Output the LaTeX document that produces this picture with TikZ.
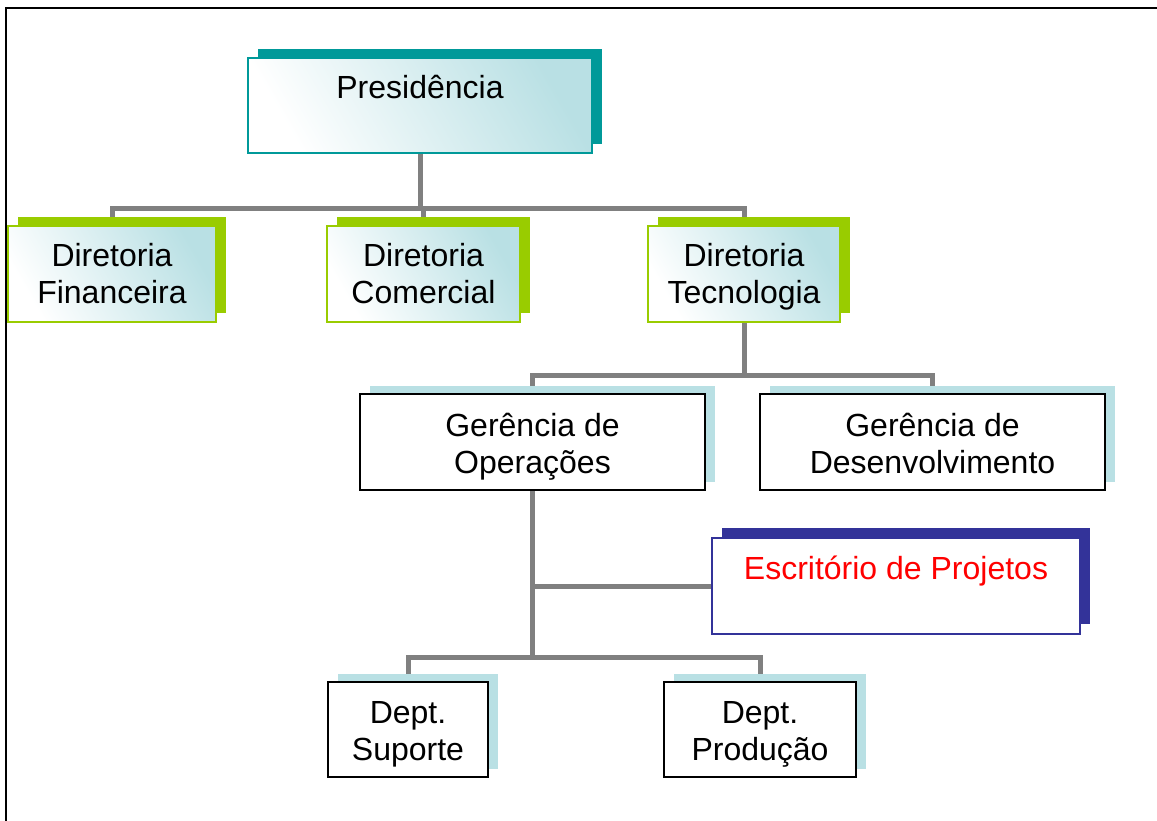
\documentclass[tikz,border=0pt]{standalone}
\usepackage{fontspec}
\setmainfont{Liberation Sans}
\usetikzlibrary{shadows,backgrounds}

\definecolor{presteal}{HTML}{009999}
\definecolor{dirgreen}{HTML}{99CC00}
\definecolor{paleblue}{HTML}{B9E0E4}
\definecolor{escblue}{HTML}{333399}
\definecolor{linegray}{HTML}{808080}

\tikzset{
  box/.style={rectangle, align=center, inner sep=0pt,
    font=\fontsize{24}{27.6}\selectfont,
    text height=47.5pt, text depth=0pt},
  gradfill/.style={top color=paleblue, bottom color=white, shading angle=-60},
  presbox/.style={box, draw=presteal, line width=1.5pt, gradfill,
    minimum height=71.25pt, text height=44.5pt,
    general shadow={shadow xshift=7.5pt, shadow yshift=7pt, fill=presteal}},
  dirbox/.style={box, draw=dirgreen, line width=1.5pt, gradfill,
    minimum height=72pt, text height=43.5pt,
    general shadow={shadow xshift=7.5pt, shadow yshift=7pt, fill=dirgreen}},
  gerbox/.style={box, draw=black, line width=1.5pt, fill=white,
    minimum height=72pt,
    general shadow={shadow xshift=7.5pt, shadow yshift=6pt, fill=paleblue}},
  escbox/.style={box, draw=escblue, line width=1pt, fill=white, text=red,
    minimum height=72pt, text height=45pt,
    general shadow={shadow xshift=7.5pt, shadow yshift=7.5pt, fill=escblue}},
  conn/.style={draw=linegray, line width=3.75pt}
}

\begin{document}
\begin{tikzpicture}[x=0.75pt, y=-0.75pt]
  \useasboundingbox (0,0) rectangle (1157,821);
  % frame
  \draw[line width=1.5pt] (6,821) -- (6,8) -- (1157,8);

  % boxes
  \node (pres) at (420,105.5) [presbox, minimum width=258pt] {Presidência\\~};
  \node (fin) at (112,274) [dirbox, minimum width=156pt] {Diretoria\\Financeira};
  \node (com) at (423.5,274) [dirbox, minimum width=144.75pt] {Diretoria\\Comercial};
  \node (tec) at (744,274) [dirbox, minimum width=144pt] {Diretoria\\Tecnologia};
  \node (ops) at (532.5,441.5) [gerbox, minimum width=258.75pt] {Gerência de\\Operações};
  \node (dev) at (932.5,441.5) [gerbox, minimum width=258.75pt] {Gerência de\\Desenvolvimento};
  \node (esc) at (896,586) [escbox, minimum width=276pt] {Escritório de Projetos\\~};
  \node (sup) at (408,729.5) [gerbox, minimum width=120pt, minimum height=71.25pt, text height=46.5pt] {Dept.\\Suporte};
  \node (prod) at (760,729.5) [gerbox, minimum width=144pt, minimum height=71.25pt, text height=46.5pt] {Dept.\\Produção};

  % connectors
  \begin{scope}[on background layer]
    \coordinate (j1) at (420,208);
    \coordinate (j2) at (744,375);
    \coordinate (j3) at (532.5,657);
    \draw[conn] (pres.south) -- (j1);
    \draw[conn] (fin.north) |- (j1) -| (tec.north);
    \draw[conn] (com.north) -- (com.north |- j1);
    \draw[conn] (tec.south) -- (j2);
    \draw[conn] (ops.north) |- (j2) -| (dev.north);
    \draw[conn] (ops.south) -- (j3);
    \draw[conn] (sup.north) |- (j3) -| (prod.north);
    \draw[conn] (esc.west) -- (esc.west -| ops.south);
  \end{scope}
\end{tikzpicture}
\end{document}
